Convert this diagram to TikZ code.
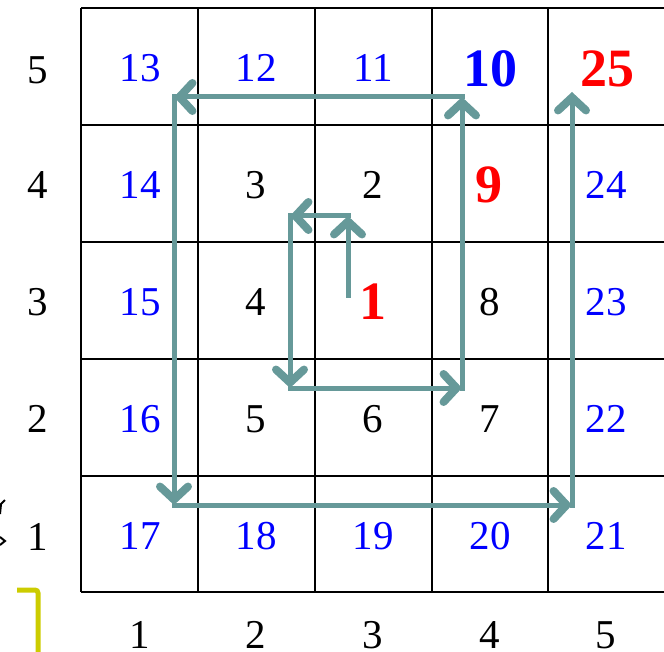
\documentclass[tikz,border=0pt]{standalone}
\usepackage{fontspec}
\setmainfont{Liberation Serif}
\usetikzlibrary{arrows.meta}
\definecolor{spiral}{RGB}{102,153,153}
\definecolor{hiyel}{RGB}{204,204,0}
\tikzset{
  gridline/.style={draw=black,line width=2.2pt},
  num/.style={inner sep=0pt,font=\fontsize{41}{41}\selectfont},
  bnum/.style={inner sep=0pt,font=\fontsize{54}{54}\selectfont\bfseries},
  lab/.style={num,text=black},
  cnum/.style={num,text=blue},
  knum/.style={num,text=black},
  spir/.style={draw=spiral,line width=5pt,line cap=rect,-{Straight Barb[length=13pt,width=28pt,line width=0pt 1.6,line cap=round]}},
}
\begin{document}
\begin{tikzpicture}[x=1pt,y=-1pt]
\useasboundingbox (0,0) rectangle (664,652);
% grid
\foreach \x in {81,198,315,432,548} \draw[gridline] (\x,8) -- (\x,592);
\foreach \y in {8,125,242,359,476,592} \draw[gridline] (81,\y) -- (664,\y);
% row labels
\foreach \r/\y in {5/70,4/185,3/302,2/419,1/537} \node[lab] (r\r) at (38,\y) {\r};
% column labels
\foreach \c/\x in {1/140,2/256,3/373,4/490,5/606} \node[lab] (c\c) at (\x,635) {\c};
% cell numbers
\node[cnum] (n13) at (140,68) {13};
\node[cnum] (n12) at (256,68) {12};
\node[cnum] (n11) at (373,68) {11};
\node[bnum,text=blue] (n10) at (490,69) {10};
\node[bnum,text=red] (n25) at (607,69) {25};
\node[cnum] (n14) at (140,185) {14};
\node[knum] (n3) at (256,185) {3};
\node[knum] (n2) at (373,185) {2};
\node[bnum,text=red] (n9) at (489,185) {9};
\node[cnum] (n24) at (606,185) {24};
\node[cnum] (n15) at (140,302) {15};
\node[knum] (n4) at (256,302) {4};
\node[bnum,text=red] (n1) at (373,302) {1};
\node[knum] (n8) at (490,302) {8};
\node[cnum] (n23) at (606,302) {23};
\node[cnum] (n16) at (140,419) {16};
\node[knum] (n5) at (256,419) {5};
\node[knum] (n6) at (373,419) {6};
\node[knum] (n7) at (490,419) {7};
\node[cnum] (n22) at (606,419) {22};
\node[cnum] (n17) at (140,536) {17};
\node[cnum] (n18) at (256,536) {18};
\node[cnum] (n19) at (373,536) {19};
\node[cnum] (n20) at (490,536) {20};
\node[cnum] (n21) at (606,536) {21};
% spiral corners
\coordinate (p0) at (348,298);
\coordinate (p1) at (348,216);
\coordinate (p2) at (290,216);
\coordinate (p3) at (290,388);
\coordinate (p4) at (462,388);
\coordinate (p5) at (462,97);
\coordinate (p6) at (174,97);
\coordinate (p7) at (174,505);
\coordinate (p8) at (572,505);
\coordinate (p9) at (572,92);
\draw[spir,line cap=butt] (p0) -- (p1);
\draw[spir] (p1) -- (p2);
\draw[spir] (p2) -- (p3);
\draw[spir] (p3) -- (p4);
\draw[spir] (p4) -- (p5);
\draw[spir] (p5) -- (p6);
\draw[spir] (p6) -- (p7);
\draw[spir] (p7) -- (p8);
\draw[spir] (p8) -- (p9);
% cropped fragments at the left edge
\draw[line width=2pt] (0,514) -- (1,504) -- (5,500);
\draw[line width=2pt] (0,537) -- (5,541) -- (0,545);
\draw[hiyel,line width=5pt,rounded corners=3pt] (17,590) -- (38,590) -- (38,652);
\end{tikzpicture}
\end{document}
